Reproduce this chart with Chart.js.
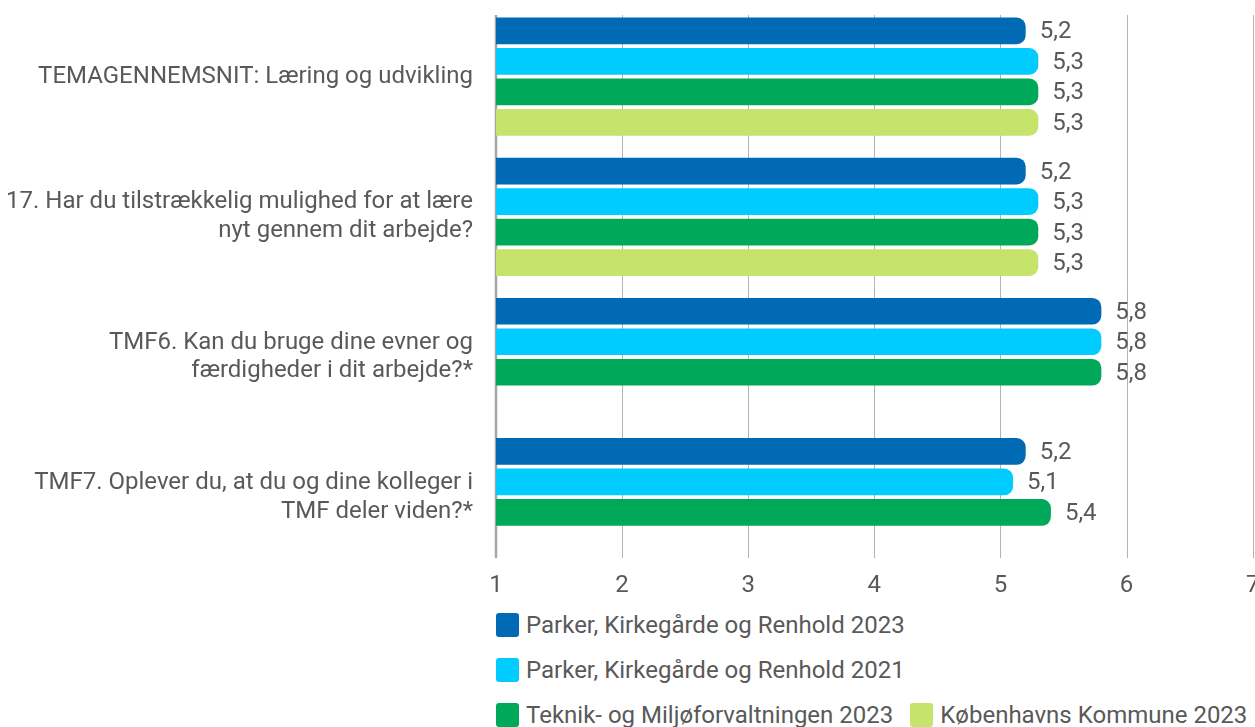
<!DOCTYPE html>
<html lang="da">
<head>
<meta charset="utf-8">
<title>Læring og udvikling</title>
<script src="https://cdn.jsdelivr.net/npm/chart.js@4.4.1/dist/chart.umd.min.js"></script>
<style>
    html, body {
        margin: 0;
        padding: 0;
        background: #ffffff;
        overflow: hidden;
    }

    .chart-wrap {
        position: relative;
        width: 1255px;
        height: 610px;
    }

    .legend {
        position: absolute;
        left: 496px;
        top: 613px;
        width: 762px;
        display: flex;
        flex-wrap: wrap;
        column-gap: 17px;
        row-gap: 21px;
        font-family: Roboto, sans-serif;
        font-size: 24px;
        color: #595959;
    }

    .legend-item {
        display: flex;
        align-items: center;
        height: 24px;
        white-space: nowrap;
    }

    .legend-box {
        width: 23px;
        height: 24px;
        border-radius: 3px;
        margin-right: 7px;
    }
</style>
</head>
<body>
<div class="chart-wrap">
    <canvas id="chart"></canvas>
</div>
<div class="legend" id="legend"></div>

<script>
const categories = [
    'TEMAGENNEMSNIT: Læring og udvikling',
    ['17. Har du tilstrækkelig mulighed for at lære', 'nyt gennem dit arbejde?'],
    ['TMF6. Kan du bruge dine evner og', 'færdigheder i dit arbejde?*'],
    ['TMF7. Oplever du, at du og dine kolleger i', 'TMF deler viden?*']
];

const seriesNames = [
    'Parker, Kirkegårde og Renhold 2023',
    'Parker, Kirkegårde og Renhold 2021',
    'Teknik- og Miljøforvaltningen 2023',
    'Københavns Kommune 2023'
];

const pkr2023 = [5.2, 5.2, 5.8, 5.2];
const pkr2021 = [5.3, 5.3, 5.8, 5.1];
const tmf2023 = [5.3, 5.3, 5.8, 5.4];
const kk2023 = [5.3, 5.3, null, null];

const xTicks = [1, 2, 3, 4, 5, 6, 7];

const colors = ['#006ab4', '#00ccff', '#00a859', '#c6e36b'];
const textColor = '#595959';
const fontFamily = 'Roboto, sans-serif';

// gridlines and the left axis line only cover the inner band, not the full chart area
const gridTop = 15;
const gridBottom = 558;

const gridPlugin = {
    id: 'shortGrid',
    beforeDatasetsDraw(chart) {
        const ctx = chart.ctx;
        const x = chart.scales.x;

        ctx.save();
        ctx.strokeStyle = '#b4b4b4';
        ctx.lineWidth = 1;
        xTicks.slice(1).forEach(v => {
            const px = Math.round(x.getPixelForValue(v)) + 0.5;
            ctx.beginPath();
            ctx.moveTo(px, gridTop);
            ctx.lineTo(px, gridBottom);
            ctx.stroke();
        });

        ctx.strokeStyle = '#a6a6a6';
        ctx.lineWidth = 2.5;
        const axisX = x.getPixelForValue(xTicks[0]);
        ctx.beginPath();
        ctx.moveTo(axisX, gridTop);
        ctx.lineTo(axisX, gridBottom);
        ctx.stroke();
        ctx.restore();
    }
};

const valueLabels = {
    id: 'valueLabels',
    afterDatasetsDraw(chart) {
        const ctx = chart.ctx;
        ctx.save();
        ctx.font = `24px ${fontFamily}`;
        ctx.fillStyle = textColor;
        ctx.textAlign = 'left';
        ctx.textBaseline = 'middle';

        chart.data.datasets.forEach((ds, i) => {
            chart.getDatasetMeta(i).data.forEach((bar, j) => {
                const value = ds.data[j];
                if (value === null || value === undefined) {
                    return;
                }
                ctx.fillText(formatValue(value), bar.x + 14, bar.y + 1.5);
            });
        });
        ctx.restore();
    }
};

function formatValue(value) {
    return Number(value).toFixed(1).replace('.', ',');
}

const seriesValues = [pkr2023, pkr2021, tmf2023, kk2023];

const datasets = seriesValues.map((values, i) => ({
    label: seriesNames[i],
    data: values,
    backgroundColor: colors[i],
    borderWidth: 0,
    borderSkipped: 'start',
    borderRadius: { topLeft: 0, bottomLeft: 0, topRight: 9, bottomRight: 9 },
    categoryPercentage: 0.87,
    barPercentage: 0.875
}));

new Chart(document.getElementById('chart'), {
    type: 'bar',
    data: {
        labels: categories,
        datasets: datasets
    },
    options: {
        indexAxis: 'y',
        responsive: true,
        maintainAspectRatio: false,
        animation: false,
        layout: {
            padding: { top: 6.5, right: 2.3, bottom: 0, left: 0 }
        },
        scales: {
            x: {
                min: 1,
                max: 7,
                grid: { display: false, drawTicks: false },
                border: { display: false },
                ticks: {
                    stepSize: 1,
                    padding: 4,
                    color: textColor,
                    font: { family: fontFamily, size: 24 }
                },
                afterFit(scale) {
                    scale.height = 610 - 567.3;
                    scale.paddingLeft = 0;
                    scale.paddingRight = 0;
                }
            },
            y: {
                grid: { display: false, drawTicks: false },
                border: { display: false },
                ticks: {
                    padding: 23,
                    color: textColor,
                    font: { family: fontFamily, size: 24, lineHeight: 1.2 }
                },
                afterFit(scale) {
                    scale.width = 496;
                    scale.paddingTop = 0;
                    scale.paddingBottom = 0;
                }
            }
        },
        plugins: {
            legend: { display: false },
            tooltip: { enabled: false }
        }
    },
    plugins: [gridPlugin, valueLabels]
});

// legend rows below the chart, left-aligned with the value axis
const legend = document.getElementById('legend');
seriesNames.forEach((name, i) => {
    const item = document.createElement('div');
    item.className = 'legend-item';
    item.innerHTML = `<span class="legend-box" style="background:${colors[i]}"></span><span>${name}</span>`;
    legend.appendChild(item);
});
</script>
</body>
</html>
